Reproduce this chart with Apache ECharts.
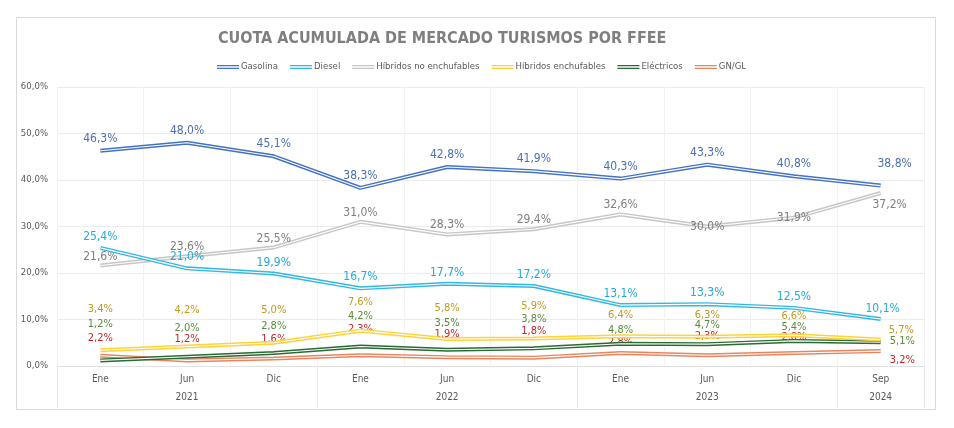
<!DOCTYPE html>
<html><head><meta charset="utf-8">
<script src="https://cdn.jsdelivr.net/npm/echarts@6/dist/echarts.min.js"></script>
<style>html,body{margin:0;padding:0;background:#fff}#c{width:954px;height:428px}</style>
</head><body><div id="c"></div>
<script>
const months = ['Ene','Jun','Dic','Ene','Jun','Dic','Ene','Jun','Dic','Sep'];
const years = ['2021','2022','2023','2024'];
const yearCenters = [1.5, 4.5, 7.5, 9.5];
const yearBounds = [0, 3, 6, 9, 10];
const yTicks = [0,10,20,30,40,50,60];

const gasolina = [46.3, 48.0, 45.1, 38.3, 42.8, 41.9, 40.3, 43.3, 40.8, 38.8];
const diesel = [25.4, 21.0, 19.9, 16.7, 17.7, 17.2, 13.1, 13.3, 12.5, 10.1];
const hibridosNo = [21.6, 23.6, 25.5, 31.0, 28.3, 29.4, 32.6, 30.0, 31.9, 37.2];
const hibridosEnch = [3.4, 4.2, 5.0, 7.6, 5.8, 5.9, 6.4, 6.3, 6.6, 5.7];
const electricos = [1.2, 2.0, 2.8, 4.2, 3.5, 3.8, 4.8, 4.7, 5.4, 5.1];
const gngl = [2.2, 1.2, 1.6, 2.3, 1.9, 1.8, 2.8, 2.3, 2.8, 3.2];

// label placement (distance above the point, in px) following the reference's manual layout
const distHE = [35, 31, 27, 23, 25, 27, 16, 16, 14];
const distEl = [31, 23, 21, 25, 21, 24, 8, 13, 8];
const distGN = [12, 16, 14, 21, 17, 21, 5, 14, 10];

const FONT = '"Liberation Sans Narrow", "DejaVu Sans Condensed", sans-serif';
const fmt = v => v.toFixed(1).replace('.', ',') + '%';

const defs = [
  {name:'Gasolina', data:gasolina, color:'#4472C4', label:'#4A6FB3', size:12, dist:6, last:{position:'top', dx:14, dy:-12}},
  {name:'Diesel', data:diesel, color:'#33B7E3', label:'#27A9D6', size:12, dist:5, last:{position:'top', dx:2, dy:0}},
  {name:'Híbridos no enchufables', data:hibridosNo, color:'#C6C6C6', label:'#7F7F7F', size:12, dist:3, last:{position:'bottom', dx:9, dy:2}, inside:[7,8]},
  {name:'Híbridos enchufables', data:hibridosEnch, color:'#FFD23C', label:'#BF9A1E', size:11, dists:distHE, last:{position:'right', dx:4, dy:-9}},
  {name:'Eléctricos', data:electricos, color:'#2A6A34', label:'#5B8A3C', size:11, dists:distEl, last:{position:'right', dx:5, dy:-1}},
  {name:'GN/GL', data:gngl, color:'#E8855E', label:'#C0282A', size:11, dists:distGN, last:{position:'right', dx:5, dy:9}}
];

const series = [];
defs.forEach((d, si) => {
  const lastIdx = d.data.length - 1;
  series.push({
    name: d.name, type:'line', data: d.data.map((v, i) => {
      const item = {value: v};
      if (i === lastIdx) item.label = {position: d.last.position, distance: 4};
      else if (d.inside && d.inside.indexOf(i) >= 0) item.label = {position: 'inside'};
      else if (d.dists) item.label = {distance: d.dists[i]};
      return item;
    }),
    symbol:'circle', symbolSize:0.1, showSymbol:true, showAllSymbol:true, smooth:false, z: 10 - si,
    lineStyle:{color:d.color, width:4}, itemStyle:{color:d.color},
    label:{show:true, position:'top', distance:d.dist || 5, color:d.label, fontFamily:FONT, fontSize:d.size, formatter: p => fmt(p.value)},
    labelLayout: p => (p.dataIndex === lastIdx ? {hideOverlap:false, dx:d.last.dx, dy:d.last.dy} : {hideOverlap:false})
  });
  series.push({
    name: d.name + '_in', type:'line', data: d.data, symbol:'none', silent:true, z: 10 - si,
    lineStyle:{color:'#ffffff', width:1.1}, tooltip:{show:false}
  });
});

const chart = echarts.init(document.getElementById('c'));
chart.setOption({
  animation:false,
  backgroundColor:'#fff',
  graphic:[{type:'rect', shape:{x:16.5, y:17.5, width:919, height:392}, style:{fill:'none', stroke:'#D9D9D9', lineWidth:1}, z:-1}],
  title:{text:'CUOTA ACUMULADA DE MERCADO TURISMOS POR FFEE', left:213, top:26,
    textStyle:{fontFamily:FONT, fontWeight:'bold', fontSize:16, color:'#7F7F7F'}},
  legend:{top:57, left:212, itemWidth:22, itemHeight:4, itemGap:12,
    icon:'path://M0,0H22V1.3H0Z M0,2.7H22V4H0Z',
    data: defs.map(d => d.name),
    textStyle:{fontFamily:FONT, fontSize:9.5, color:'#595959', padding:[0,0,0,-3]}},
  grid:{left:57, right:30, top:87, bottom:62},
  xAxis:[{
    type:'category', data:months, boundaryGap:true,
    axisLine:{lineStyle:{color:'#E0E0E0'}}, axisTick:{show:false},
    axisLabel:{fontFamily:FONT, fontSize:10, color:'#595959', margin:8, interval:0},
    splitLine:{show:true, lineStyle:{color:'#F2F2F2'}}
  },{
    type:'value', min:0, max:10, position:'bottom',
    axisLine:{show:false}, splitLine:{show:false},
    axisTick:{show:true, customValues:yearBounds, length:42, lineStyle:{color:'#E6E6E6'}},
    axisLabel:{customValues:yearCenters, margin:26, fontFamily:FONT, fontSize:10, color:'#595959',
      formatter: v => years[yearCenters.indexOf(v)] || ''}
  }],
  yAxis:{type:'value', min:0, max:60, interval:10,
    axisLine:{show:false}, axisTick:{show:false},
    axisLabel:{fontFamily:FONT, fontSize:9.5, color:'#595959', margin:9, formatter: v => fmt(v), customValues: yTicks},
    splitLine:{lineStyle:{color:'#EBEBEB'}}},
  series: series
});
</script></body></html>
